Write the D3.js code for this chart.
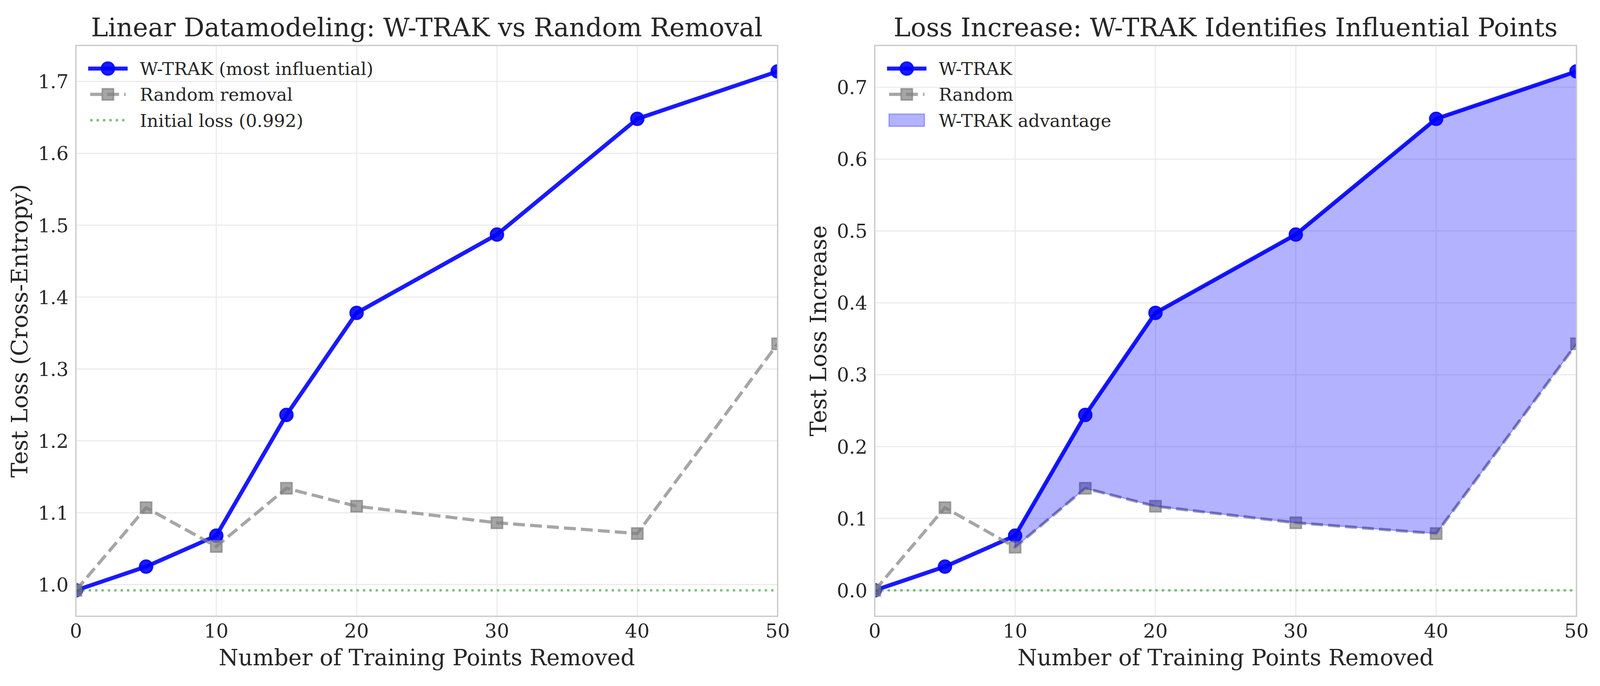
<!DOCTYPE html>
<html>
<head>
<meta charset="utf-8">
<script src="https://cdn.jsdelivr.net/npm/d3@7"></script>
<style>
  html, body { margin: 0; padding: 0; background: #fff; overflow: hidden; }
  svg { display: block; }
  text { font-family: "DejaVu Serif", serif; fill: #262626; }
</style>
</head>
<body>
<div id="chart"></div>
<script>
// data
const removed = [0, 5, 10, 15, 20, 30, 40, 50];
const wtrakLoss = [0.992, 1.025, 1.068, 1.236, 1.378, 1.487, 1.648, 1.714];
const randomLoss = [0.992, 1.107, 1.053, 1.134, 1.109, 1.086, 1.071, 1.335];
const initialLoss = 0.992;
const wtrakIncrease = [0, 0.033, 0.076, 0.244, 0.386, 0.495, 0.656, 0.722];
const randomIncrease = [0, 0.115, 0.060, 0.142, 0.117, 0.094, 0.079, 0.343];
const xTicks = [0, 10, 20, 30, 40, 50];
const lossTicks = [1.0, 1.1, 1.2, 1.3, 1.4, 1.5, 1.6, 1.7];
const increaseTicks = [0.0, 0.1, 0.2, 0.3, 0.4, 0.5, 0.6, 0.7];

const W = 4152, H = 1757;
// scale to whatever viewport we get so nothing is cut at the edges
const svg = d3.select("#chart").append("svg")
  .attr("viewBox", `0 0 ${W} ${H}`)
  .style("width", "100vw").style("height", "100vh");
svg.append("rect").attr("width", W).attr("height", H).attr("fill", "#fff");

function drawPanel(opt) {
  const left = opt.left, right = opt.left + 1821, top = 106, bottom = 1588;
  const x = d3.scaleLinear().domain([0, 50]).range([left, right]);
  const y = d3.scaleLinear().domain(opt.yDomain).range([bottom, top]);
  const g = svg.append("g");

  const clipId = "clip" + opt.id;
  svg.append("clipPath").attr("id", clipId)
    .append("rect").attr("x", left).attr("y", top).attr("width", right - left).attr("height", bottom - top);

  // grid
  g.selectAll(".gx").data(xTicks).join("line")
    .attr("x1", d => x(d)).attr("x2", d => x(d)).attr("y1", top).attr("y2", bottom)
    .attr("stroke", "#ebebeb").attr("stroke-width", 3);
  g.selectAll(".gy").data(opt.yTicks).join("line")
    .attr("x1", left).attr("x2", right).attr("y1", d => y(d)).attr("y2", d => y(d))
    .attr("stroke", "#ebebeb").attr("stroke-width", 3);

  // tick labels
  g.selectAll(".tx").data(xTicks).join("text")
    .attr("x", d => x(d)).attr("y", 1643).attr("text-anchor", "middle")
    .style("font-size", "50px").text(d => d);
  g.selectAll(".ty").data(opt.yTicks).join("text")
    .attr("x", left - 19).attr("y", d => y(d)).attr("dy", "0.36em").attr("text-anchor", "end")
    .style("font-size", "50px").text(d => d.toFixed(1));

  const data = g.append("g").attr("clip-path", `url(#${clipId})`);
  const line = d3.line().x(d => x(d[0])).y(d => y(d[1]));

  const wPts = removed.map((v, i) => [v, opt.wtrak[i]]);
  const rPts = removed.map((v, i) => [v, opt.random[i]]);

  // W-TRAK line
  data.append("path").attr("d", line(wPts)).attr("fill", "none")
    .attr("stroke", "blue").attr("stroke-opacity", 0.9).attr("stroke-width", 10.4)
    .attr("stroke-linejoin", "round").attr("stroke-linecap", "square");
  data.selectAll(".wm").data(wPts).join("circle")
    .attr("cx", d => x(d[0])).attr("cy", d => y(d[1])).attr("r", 16.7)
    .attr("fill", "blue").attr("fill-opacity", 0.9)
    .attr("stroke", "blue").attr("stroke-opacity", 0.9).attr("stroke-width", 4);

  // random line
  data.append("path").attr("d", line(rPts)).attr("fill", "none")
    .attr("stroke", "gray").attr("stroke-opacity", 0.7).attr("stroke-width", 8.3)
    .attr("stroke-dasharray", "30.8,13.3").attr("stroke-linejoin", "round");
  data.selectAll(".rm").data(rPts).join("rect")
    .attr("x", d => x(d[0]) - 14.5).attr("y", d => y(d[1]) - 14.5)
    .attr("width", 29).attr("height", 29)
    .attr("fill", "gray").attr("fill-opacity", 0.7)
    .attr("stroke", "gray").attr("stroke-opacity", 0.7).attr("stroke-width", 4);

  // reference line
  data.append("line").attr("x1", left).attr("x2", right)
    .attr("y1", y(opt.refY)).attr("y2", y(opt.refY))
    .attr("stroke", "green").attr("stroke-opacity", 0.5).attr("stroke-width", 6.25)
    .attr("stroke-dasharray", "6.25,10.3");

  // advantage fill where W-TRAK > random
  if (opt.fill) {
    const idx = removed.map((v, i) => i).filter(i => opt.wtrak[i] > opt.random[i]);
    const area = d3.area().x(i => x(removed[i])).y0(i => y(opt.random[i])).y1(i => y(opt.wtrak[i]));
    data.append("path").attr("d", area(idx))
      .attr("fill", "blue").attr("fill-opacity", 0.3)
      .attr("stroke", "blue").attr("stroke-opacity", 0.3).attr("stroke-width", 3);
  }

  // spines
  g.append("rect").attr("x", left).attr("y", top).attr("width", right - left).attr("height", bottom - top)
    .attr("fill", "none").attr("stroke", "#cccccc").attr("stroke-width", 3.5);

  // legend
  const lx = left + 37, len = 92, tx = left + 166;
  const rows = [166, 233, 300];
  const lg = g.append("g");
  lg.append("line").attr("x1", lx).attr("x2", lx + len).attr("y1", rows[0]).attr("y2", rows[0])
    .attr("stroke", "blue").attr("stroke-opacity", 0.9).attr("stroke-width", 10.4).attr("stroke-linecap", "square");
  lg.append("circle").attr("cx", lx + len / 2).attr("cy", rows[0]).attr("r", 16.7)
    .attr("fill", "blue").attr("fill-opacity", 0.9).attr("stroke", "blue").attr("stroke-opacity", 0.9).attr("stroke-width", 4);
  lg.append("line").attr("x1", lx).attr("x2", lx + len).attr("y1", rows[1]).attr("y2", rows[1])
    .attr("stroke", "gray").attr("stroke-opacity", 0.7).attr("stroke-width", 8.3).attr("stroke-dasharray", "30.8,13.3");
  lg.append("rect").attr("x", lx + len / 2 - 14.5).attr("y", rows[1] - 14.5).attr("width", 29).attr("height", 29)
    .attr("fill", "gray").attr("fill-opacity", 0.7).attr("stroke", "gray").attr("stroke-opacity", 0.7).attr("stroke-width", 4);
  if (opt.fill) {
    lg.append("rect").attr("x", lx).attr("y", rows[2] - 16).attr("width", len).attr("height", 32)
      .attr("fill", "blue").attr("fill-opacity", 0.3).attr("stroke", "blue").attr("stroke-opacity", 0.3).attr("stroke-width", 3);
  } else {
    lg.append("line").attr("x1", lx).attr("x2", lx + len).attr("y1", rows[2]).attr("y2", rows[2])
      .attr("stroke", "green").attr("stroke-opacity", 0.5).attr("stroke-width", 6.25).attr("stroke-dasharray", "6.25,10.3");
  }
  opt.legend.forEach((t, i) => {
    lg.append("text").attr("x", tx).attr("y", rows[i] + 17).style("font-size", "46px").text(t);
  });

  // titles and labels
  const cx = (left + right) / 2;
  g.append("text").attr("x", cx).attr("y", 82).attr("text-anchor", "middle")
    .style("font-size", "66.7px").text(opt.title);
  g.append("text").attr("x", cx).attr("y", 1715).attr("text-anchor", "middle")
    .style("font-size", "58.3px").text("Number of Training Points Removed");
  g.append("text").attr("transform", `translate(${left - 126},${(top + bottom) / 2}) rotate(-90)`)
    .attr("text-anchor", "middle").style("font-size", "58.3px").text(opt.yLabel);
}

drawPanel({
  id: "a", left: 197, yDomain: [0.9559, 1.7501], yTicks: lossTicks,
  wtrak: wtrakLoss, random: randomLoss, refY: initialLoss, fill: false,
  title: "Linear Datamodeling: W-TRAK vs Random Removal",
  yLabel: "Test Loss (Cross-Entropy)",
  legend: ["W-TRAK (most influential)", "Random removal", "Initial loss (0.992)"]
});
drawPanel({
  id: "b", left: 2270, yDomain: [-0.0361, 0.7581], yTicks: increaseTicks,
  wtrak: wtrakIncrease, random: randomIncrease, refY: 0, fill: true,
  title: "Loss Increase: W-TRAK Identifies Influential Points",
  yLabel: "Test Loss Increase",
  legend: ["W-TRAK", "Random", "W-TRAK advantage"]
});
</script>
</body>
</html>
